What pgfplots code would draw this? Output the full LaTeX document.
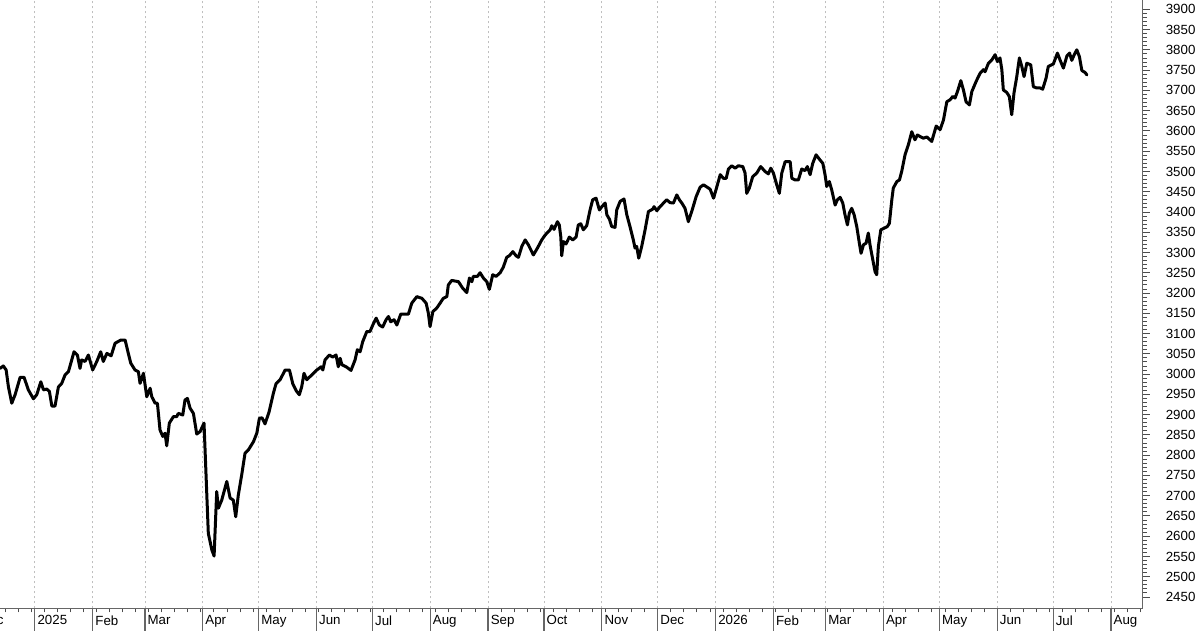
\documentclass[border=0pt]{standalone}
\usepackage{fontspec}
\setmainfont{Liberation Sans}
\usepackage{pgfplots}
\pgfplotsset{compat=1.18}
\begin{document}
\fontsize{13.3pt}{16pt}\selectfont
\begin{tikzpicture}
\useasboundingbox (0,-21.7pt) rectangle (1200pt,608.3pt);
\clip (0,-21.7pt) rectangle (1200pt,608.3pt);
\begin{axis}[
  at={(0,0)}, anchor=south west,
  scale only axis, width=1142.6pt, height=608.3pt,
  xmin=-18.7, xmax=594, ymin=2422, ymax=3923,
  axis x line=bottom, axis y line=right,
  axis line style={black!60, line width=1pt, -},
  every outer x axis line/.append style={-},
  every outer y axis line/.append style={-},
  tick align=outside,
  major tick length=7pt, minor tick length=4pt,
  tick style={black!70, line width=0.9pt},
  xtick={0,31,59,90,120,151,181,212,243,273,304,334,365,396,424,455,485,516,546,577},
  xticklabels={2025,Feb,Mar,Apr,May,Jun,Jul,Aug,Sep,Oct,Nov,Dec,2026,Feb,Mar,Apr,May,Jun,Jul,Aug},
  minor xtick={-16,-9,...,593},
  ytick={2450,2500,...,3900},
  minor y tick num=4,
  xmajorgrids,
  major grid style={black!25, dash pattern=on 2.5pt off 2.5pt, line width=0.8pt},
  xticklabel style={anchor=north west, inner sep=0pt, xshift=2.5pt},
  yticklabel style={anchor=west, inner sep=0pt, xshift=16pt},
  /pgf/number format/1000 sep={},
  /pgf/number format/assume math mode=true,
  ticklabel style={font=\fontsize{13.3pt}{16pt}\selectfont},
  clip=false,
]
\addplot[black, line width=3pt, line join=round, line cap=round] coordinates {
(-18.7,3014) (-16.9,3020) (-15.4,3010) (-14.2,2969) (-12.4,2928) (-10.6,2949) (-7.9,2992) (-5.8,2992) (-3.5,2961) (-0.8,2939) (1.0,2949) (3.2,2981) (4.6,2961) (6.4,2963) (7.8,2957) (9.1,2921) (10.8,2921) (12.6,2968) (14.4,2977) (16.2,2998) (18.0,3006) (21.0,3055) (22.8,3047) (24.2,3014) (25.1,3035) (26.9,3031) (28.7,3047) (31.0,3010) (33.2,3031) (35.3,3055) (36.7,3031) (38.6,3051) (40.9,3045) (43.0,3076) (46.1,3084) (48.4,3084) (50.1,3051) (51.4,3027) (53.7,3010) (55.5,3006) (56.4,2977) (58.2,3002) (60.0,2944) (61.8,2965) (62.7,2944) (64.5,2928) (65.7,2928) (67.1,2862) (68.6,2846) (69.8,2854) (70.7,2823) (72.1,2879) (74.3,2895) (76.1,2895) (76.9,2903) (79.3,2899) (80.5,2936) (81.8,2940) (83.2,2916) (85.0,2903) (86.8,2852) (88.6,2858) (90.7,2879) (93.0,2607) (94.9,2566) (96.1,2551) (97.5,2710) (98.4,2669) (100.2,2689) (102.9,2735) (104.7,2694) (106.4,2689) (107.7,2648) (109.1,2702) (110.9,2751) (112.7,2805) (114.5,2813) (117.2,2833) (119.0,2854) (120.4,2891) (121.8,2892) (123.4,2877) (125.6,2907) (127.9,2953) (129.3,2976) (131.5,2986) (134.2,3010) (136.5,3010) (138.3,2976) (140.1,2959) (141.8,2949) (143.1,2969) (144.3,3002) (145.8,2986) (148.5,2998) (151.2,3010) (153.5,3018) (154.4,3010) (155.6,3035) (157.9,3047) (159.7,3042) (161.5,3047) (162.7,3018) (163.7,3039) (164.6,3023) (166.9,3018) (169.5,3009) (171.7,3035) (172.9,3060) (174.4,3055) (175.8,3080) (178.0,3105) (179.7,3105) (181.2,3121) (183.0,3138) (184.7,3121) (186.5,3116) (188.3,3134) (189.6,3142) (190.8,3129) (192.6,3134) (194.1,3121) (196.2,3148) (200.3,3148) (202.1,3175) (204.8,3191) (207.5,3187) (209.8,3175) (211.0,3150) (211.9,3117) (213.4,3154) (215.5,3163) (217.3,3175) (219.0,3187) (220.9,3191) (221.7,3220) (223.5,3231) (227.1,3228) (229.4,3212) (231.6,3201) (233.0,3237) (234.3,3228) (235.1,3241) (237.3,3241) (238.7,3250) (240.5,3237) (242.3,3228) (243.7,3209) (245.5,3245) (247.3,3241) (249.5,3250) (251.2,3264) (253.0,3288) (254.4,3292) (256.3,3302) (258.0,3292) (259.3,3288) (261.1,3315) (262.9,3331) (264.6,3319) (267.3,3294) (269.5,3311) (271.8,3331) (273.6,3343) (276.3,3356) (277.2,3366) (278.4,3357) (280.2,3376) (281.2,3368) (282.0,3339) (282.5,3292) (283.4,3327) (284.8,3321) (286.6,3338) (288.4,3331) (290.2,3338) (291.4,3368) (292.7,3371) (294.1,3356) (295.9,3366) (297.7,3405) (299.1,3430) (300.9,3434) (302.7,3405) (304.0,3413) (305.8,3422) (306.7,3393) (308.1,3382) (309.3,3364) (311.1,3362) (312.0,3405) (313.8,3426) (315.9,3432) (317.4,3393) (319.1,3364) (320.9,3331) (321.8,3311) (322.7,3315) (323.8,3286) (325.4,3315) (327.2,3356) (329.0,3401) (331.3,3407) (332.0,3413) (333.5,3403) (335.2,3413) (338.8,3430) (340.6,3423) (342.4,3422) (344.2,3442) (345.6,3430) (346.9,3422) (348.6,3409) (350.4,3376) (352.2,3401) (354.6,3438) (356.7,3461) (358.5,3467) (361.2,3459) (362.1,3456) (363.9,3434) (365.3,3456) (367.5,3492) (369.2,3483) (370.7,3483) (371.9,3506) (373.7,3514) (375.5,3508) (377.2,3514) (379.6,3512) (380.8,3496) (381.7,3446) (383.1,3459) (384.9,3487) (387.1,3496) (389.2,3512) (391.5,3500) (393.3,3494) (394.6,3508) (396.0,3496) (397.8,3467) (399.2,3446) (400.5,3496) (402.3,3524) (405.0,3524) (405.9,3483) (407.6,3479) (409.4,3479) (411.2,3506) (413.0,3502) (414.2,3512) (415.7,3492) (417.1,3520) (418.9,3541) (420.7,3530) (422.5,3520) (423.7,3492) (424.6,3463) (426.0,3475) (427.3,3454) (429.1,3417) (430.3,3430) (431.8,3436) (433.2,3422) (434.4,3393) (435.7,3368) (436.7,3397) (438.0,3409) (439.3,3393) (440.7,3364) (442.1,3323) (443.0,3298) (444.3,3319) (445.7,3323) (446.9,3348) (447.8,3319) (449.3,3282) (450.5,3253) (451.4,3245) (452.3,3315) (453.6,3356) (455.4,3360) (457.1,3364) (458.2,3372) (459.5,3430) (460.3,3459) (462.2,3475) (463.6,3479) (464.8,3500) (466.6,3541) (468.4,3566) (470.2,3598) (471.9,3578) (473.2,3590) (474.7,3586) (476.4,3582) (478.3,3585) (480.9,3574) (483.3,3612) (485.4,3603) (487.2,3627) (489.0,3672) (490.8,3677) (492.2,3685) (493.4,3681) (494.7,3697) (496.5,3724) (497.9,3701) (499.3,3672) (501.1,3664) (502.4,3697) (504.7,3722) (506.8,3742) (508.6,3751) (509.5,3746) (511.3,3767) (513.1,3775) (514.9,3788) (516.1,3771) (517.5,3780) (518.5,3751) (519.3,3701) (521.1,3695) (522.5,3685) (523.8,3640) (525.0,3693) (526.5,3734) (527.9,3780) (529.2,3759) (530.4,3734) (531.9,3767) (534.0,3763) (535.4,3709) (537.2,3706) (539.0,3706) (540.4,3703) (542.2,3730) (543.4,3759) (546.1,3765) (548.3,3792) (549.7,3775) (551.5,3755) (553.4,3785) (554.8,3792) (556.0,3774) (557.3,3788) (558.7,3800) (560.1,3783) (561.4,3749) (563.2,3744) (564.1,3738)
};
\pgfplotsinvokeforeach{0,31,59,90,120,151,181,212,243,273,304,334,365,396,424,455,485,516,546,577}{
  \draw[black!60, line width=1.2pt] (axis cs:#1,2422) -- ++(0pt,-25pt);
}
\node[anchor=north west, inner sep=0pt, font=\fontsize{13.3pt}{16pt}\selectfont] at ([xshift=2.5pt,yshift=-7pt]axis cs:-31,2422) {Dec};
\end{axis}
\end{tikzpicture}
\end{document}
